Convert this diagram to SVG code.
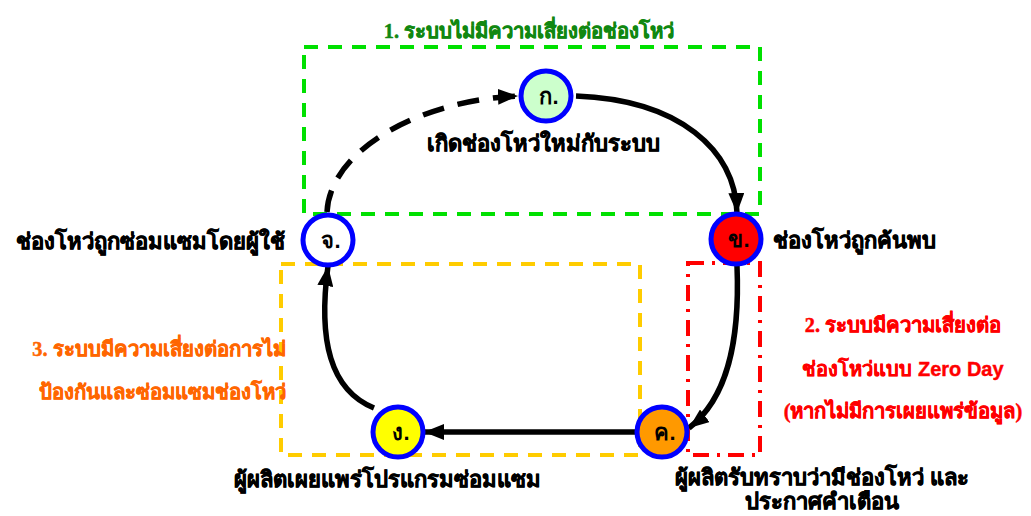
<svg xmlns="http://www.w3.org/2000/svg" width="1031" height="516" viewBox="0 0 1031 516">
<style>
.node{stroke:#0000ff;stroke-width:5}
.nl{font-family:"Liberation Sans","DejaVu Sans",sans-serif;font-weight:bold;font-size:22px;fill:#000;text-anchor:middle}
.lbl{font-family:"Liberation Sans","DejaVu Sans",sans-serif;font-weight:bold;font-size:22px;fill:#000;stroke:#000;stroke-width:0.6}
.ser{font-family:"Liberation Serif","DejaVu Serif",serif;font-weight:bold;font-size:20.3px;stroke-width:0.5}
.edge{fill:none;stroke:#000;stroke-width:5.5}
</style>
<defs>
<marker id="arr" markerWidth="20" markerHeight="16" refX="20" refY="8" orient="auto" markerUnits="userSpaceOnUse" viewBox="0 0 20 16">
<path d="M0,0 L20,8 L0,16 Z" fill="#000"/>
</marker>
</defs>
<rect width="1031" height="516" fill="#fff"/>
<g id="regions">
<rect x="304" y="47" width="456" height="167" fill="none" stroke="#00e000" stroke-width="4" stroke-dasharray="14,10"/>
<rect x="281" y="264" width="359" height="191" fill="none" stroke="#ffcc00" stroke-width="4" stroke-dasharray="14,10"/>
<rect x="688" y="263" width="72" height="192" fill="none" stroke="#ff0000" stroke-width="4" stroke-dasharray="16,8,3,8"/>
</g>
<g id="connectors">
<path class="edge" d="M327,212 C330,150 420,100 518,96" stroke-dasharray="22,14" marker-end="url(#arr)"/>
<path class="edge" d="M576,96 C680,100 735,150 737,213" marker-end="url(#arr)"/>
<path class="edge" d="M737,266 C740,340 728,398 689,428" marker-end="url(#arr)"/>
<path class="edge" d="M637,432 L424,432" marker-end="url(#arr)"/>
<path class="edge" d="M374,408 C330,390 318,340 328,266" marker-end="url(#arr)"/>
</g>
<g id="node-ka">
<circle class="node" cx="546" cy="96" r="25" fill="#ccffcc"/>
<text class="nl" x="549" y="104">ก.</text>
<text class="lbl" x="543" y="151" text-anchor="middle">เกิดช่องโหว่ใหม่กับระบบ</text>
</g>
<g id="node-kho">
<circle class="node" cx="736" cy="239" r="25" fill="#ff0000"/>
<text class="nl" x="739" y="247">ข.</text>
<text class="lbl" x="773" y="248">ช่องโหว่ถูกค้นพบ</text>
</g>
<g id="node-kho2">
<circle class="node" cx="662" cy="432" r="25" fill="#ff9900"/>
<text class="nl" x="665" y="440">ค.</text>
<text class="lbl" x="822" y="485" text-anchor="middle">ผู้ผลิตรับทราบว่ามีช่องโหว่ และ</text>
<text class="lbl" x="822" y="509" text-anchor="middle">ประกาศคำเตือน</text>
</g>
<g id="node-ngo">
<circle class="node" cx="398" cy="432" r="25" fill="#ffff00"/>
<text class="nl" x="401" y="440">ง.</text>
<text class="lbl" x="387" y="487" text-anchor="middle">ผู้ผลิตเผยแพร่โปรแกรมซ่อมแซม</text>
</g>
<g id="node-cho">
<circle class="node" cx="328" cy="240" r="25" fill="#ffffff"/>
<text class="nl" x="331" y="248">จ.</text>
<text class="lbl" x="285" y="249" text-anchor="end">ช่องโหว่ถูกซ่อมแซมโดยผู้ใช้</text>
</g>
<g id="zone-labels">
<text class="ser" x="529" y="38" text-anchor="middle" fill="#118811" stroke="#118811">1. ระบบไม่มีความเสี่ยงต่อช่องโหว่</text>
<text class="ser" x="903" y="332" text-anchor="middle" fill="#ff0000" stroke="#ff0000">2. ระบบมีความเสี่ยงต่อ</text>
<text x="903" y="376" text-anchor="middle" fill="#ff0000" stroke="#ff0000" stroke-width="0.4" style="font-family:'Liberation Sans','DejaVu Sans',sans-serif;font-weight:bold;font-size:20px">ช่องโหว่แบบ Zero Day</text>
<text class="ser" x="903" y="418" text-anchor="middle" fill="#ff0000" stroke="#ff0000">(หากไม่มีการเผยแพร่ข้อมูล)</text>
<text class="ser" x="159" y="356" text-anchor="middle" fill="#ff6600" stroke="#ff6600">3. ระบบมีความเสี่ยงต่อการไม่</text>
<text class="ser" x="162" y="399" text-anchor="middle" fill="#ff6600" stroke="#ff6600">ป้องกันและซ่อมแซมช่องโหว่</text>
</g>
</svg>
